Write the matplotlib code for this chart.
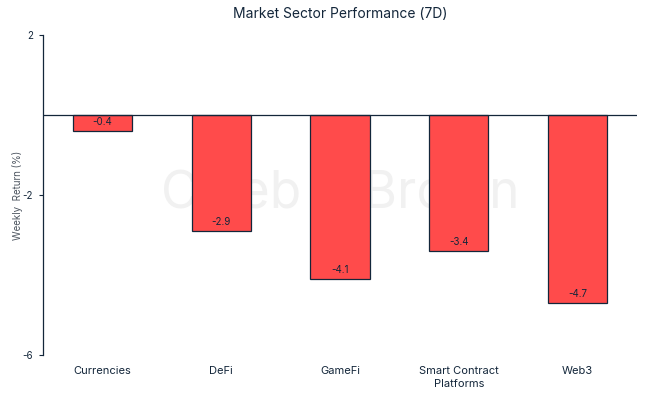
import matplotlib
matplotlib.use("Agg")
import matplotlib.pyplot as plt

categories = ["Currencies", "DeFi", "GameFi", "Smart Contract\nPlatforms", "Web3"]
values = [-0.4, -2.9, -4.1, -3.4, -4.7]
yticks = [2, -2, -6]

plt.rcParams['font.family'] = ['Inter', 'DejaVu Sans']
navy = "#13263a"
red = "#FF4B4B"

fig = plt.figure(figsize=(6.48, 3.96), dpi=100)
ax = fig.add_axes([0.0664, 0.1035, 0.9166, 0.8081])

ax.text(0.525, 0.508, "Caleb & Brown", ha="center", va="center", fontsize=37,
        color="#f1f1f1", zorder=0, transform=fig.transFigure)

x = list(range(len(categories)))
ax.bar(x, values, width=0.5, color=red, edgecolor=navy, linewidth=0.9, zorder=3)
for xi, v in zip(x, values):
    ax.text(xi, v + 0.22, f"{v:.1f}", ha="center", va="center",
            fontsize=7, color=navy, zorder=4)

ax.axhline(0, color=navy, linewidth=0.9, zorder=4)
ax.set_xlim(-0.5, 4.5)
ax.set_ylim(-6, 2)
ax.set_yticks(yticks)
ax.set_yticklabels([str(t) for t in yticks], fontsize=7, color=navy)
ax.set_xticks(x)
ax.set_xticklabels(categories, fontsize=8, color=navy, linespacing=1.35)
ax.tick_params(axis="x", length=0, pad=8)
ax.tick_params(axis="y", length=3, width=0.8, color=navy, pad=4)
for s in ["top", "right", "bottom"]:
    ax.spines[s].set_visible(False)
ax.spines["left"].set_color(navy)
ax.spines["left"].set_linewidth(0.9)
ax.patch.set_alpha(0)
ax.set_ylabel("Weekly  Return (%)", fontsize=7, color="#4d5560")
ax.yaxis.set_label_coords((23 - 43) / 594, 0.5)
ax.set_title("Market Sector Performance (7D)", fontsize=10, color=navy, pad=12)

fig.savefig("out.png", dpi=100)
